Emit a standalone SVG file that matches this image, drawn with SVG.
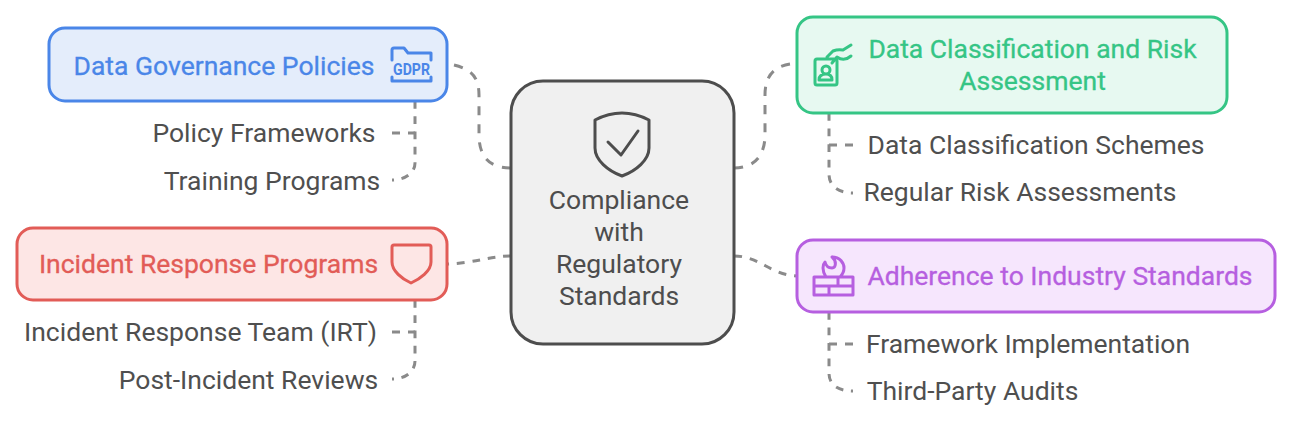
<svg xmlns="http://www.w3.org/2000/svg" width="1292" height="424" viewBox="0 0 1292 424">
<style>
text{font-family:Roboto,"Liberation Sans",sans-serif;font-size:26.5px;text-anchor:middle}
.sub{fill:#4f4f4f}
.head{stroke-width:.3}
.box{stroke-width:3}
.conn{fill:none;stroke:#8a8a8a;stroke-width:3;stroke-dasharray:8 8}
.ic{fill:none;stroke-width:3;stroke-linecap:round;stroke-linejoin:round}
</style>
<rect width="1292" height="424" fill="#ffffff"/>
<g id="connectors">
<path class="conn" pathLength="120" d="M454 65C470 69 479 76 479 95V135C479 155 488 168 511 168"/>
<path class="conn" pathLength="66" d="M511 256C490 256 475 263 447 264"/>
<path class="conn" pathLength="120" d="M734 168C755 168 765 155 765 135V95C765 78 772 67 790 64"/>
<path class="conn" d="M734 256C760 256 770 275 797 276"/>
<path class="conn" pathLength="98" d="M415 101V163C415 173 405 180 392 180"/>
<path class="conn" d="M392 133H415"/>
<path class="conn" pathLength="98" d="M415 300V361C415 372 405 379 392 379"/>
<path class="conn" d="M392 332H415"/>
<path class="conn" pathLength="98" d="M829 113V174C829 186 838 193 853 193"/>
<path class="conn" d="M853 145H829"/>
<path class="conn" pathLength="98" d="M829 312V373C829 385 838 391 853 391"/>
<path class="conn" d="M853 344H829"/>
</g>
<g id="center">
<rect x="511" y="81" width="223" height="263" rx="32" fill="#f0f0f0" stroke="#4d4d4d" stroke-width="3"/>
<path fill="none" stroke="#4d4d4d" stroke-width="3" stroke-linejoin="round" d="M595 120Q622 106 649 120V148C649 160 636 171 622 176C608 171 595 160 595 148Z"/>
<path fill="none" stroke="#4d4d4d" stroke-width="3" stroke-linecap="round" stroke-linejoin="round" d="M608 142L621 155L638 131"/>
<text x="619" y="209" fill="#4d4d4d">Compliance</text>
<text x="619" y="241" fill="#4d4d4d">with</text>
<text x="619" y="273" fill="#4d4d4d">Regulatory</text>
<text x="619" y="305" fill="#4d4d4d">Standards</text>
</g>
<g id="data-governance">
<rect class="box" x="49" y="28" width="398" height="73" rx="16" fill="#e4edfb" stroke="#4a86e8"/>
<text class="head" x="224" y="74.500" fill="#4a86e8" stroke="#4a86e8">Data Governance Policies</text>
<path class="ic" stroke="#4a86e8" d="M392 60V50Q392 48 394 48H404L408 53H431V60M392 77V81H431V77"/>
<text x="411.500" y="75" fill="#4a86e8" style="font-size:16.500px;font-weight:700" textLength="37" lengthAdjust="spacingAndGlyphs">GDPR</text>
</g>
<g id="policy-frameworks"><text class="sub" x="264" y="142">Policy Frameworks</text></g>
<g id="training-programs"><text class="sub" x="272" y="190">Training Programs</text></g>
<g id="incident-response">
<rect class="box" x="17" y="228" width="430" height="72" rx="16" fill="#fde6e5" stroke="#e25c57"/>
<text class="head" x="208.500" y="273" fill="#e25c57" stroke="#e25c57">Incident Response Programs</text>
<path class="ic" stroke="#e25c57" d="M394 245H429Q431 245 431 247V262C431 271 420 279 411 283C402 279 392 271 392 262V247Q392 245 394 245Z"/>
</g>
<g id="incident-team"><text class="sub" x="200.500" y="341">Incident Response Team (IRT)</text></g>
<g id="post-incident"><text class="sub" x="248.500" y="389">Post-Incident Reviews</text></g>
<g id="data-classification">
<rect class="box" x="797" y="17" width="430" height="96" rx="16" fill="#e7f9f1" stroke="#35c585"/>
<text class="head" x="1032.500" y="58" fill="#35c585" stroke="#35c585">Data Classification and Risk</text>
<text class="head" x="1032.500" y="90" fill="#35c585" stroke="#35c585">Assessment</text>
<path class="ic" stroke="#35c585" d="M817 59H835Q837 59 837 61V83Q837 85 835 85H817Q815 85 815 83V61Q815 59 817 59ZM819 80H832Q832 74 826 74Q819 74 819 80ZM826 74A4 4 0 1 0 826 66A4 4 0 1 0 826 74ZM827 57L833 51Q838 49 843 50L851 45M832 63L837 57Q844 62 851 56"/>
</g>
<g id="classification-schemes"><text class="sub" x="1036" y="153.500">Data Classification Schemes</text></g>
<g id="risk-assessments"><text class="sub" x="1020" y="201">Regular Risk Assessments</text></g>
<g id="industry-standards">
<rect class="box" x="797" y="240" width="478" height="72" rx="16" fill="#f6e6fd" stroke="#b65fe0"/>
<text class="head" x="1060" y="285" fill="#b65fe0" stroke="#b65fe0">Adherence to Industry Standards</text>
<path class="ic" stroke="#b65fe0" d="M814 277H853V295H814ZM814 286H853M838 277V286M829 286V295M832 257C840 257 844 263 844 268C844 272 842 275 840 277M826 277C824 274 823 271 823 268C823 265 824 263 825 262C826 266 829 268 832 268C836 268 837 261 832 257"/>
</g>
<g id="framework-implementation"><text class="sub" x="1028" y="352.500">Framework Implementation</text></g>
<g id="third-party"><text class="sub" x="972.500" y="400">Third-Party Audits</text></g>
</svg>
